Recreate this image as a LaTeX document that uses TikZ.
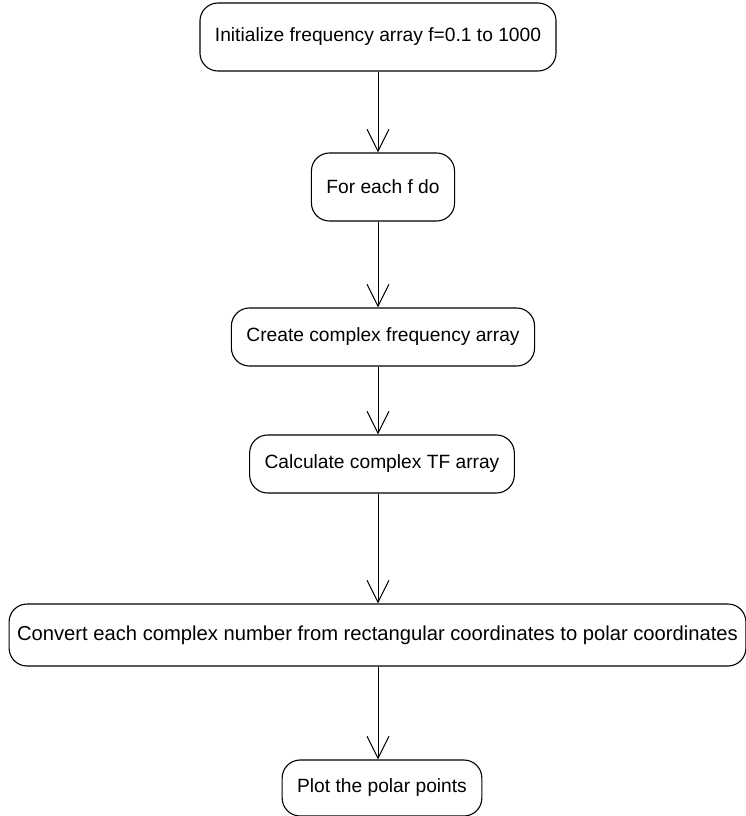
\documentclass[tikz,border=0pt]{standalone}
\usepackage{fontspec}
\setmainfont{Liberation Sans}
\usetikzlibrary{arrows.meta}
\begin{document}
\begin{tikzpicture}[x=1pt,y=-1pt,
  stepbox/.style={draw, line width=1.1pt, rounded corners=18pt, inner xsep=15pt,
    minimum height=58pt, font=\fontsize{19.2}{23}\selectfont},
  flow/.style={line width=1pt, -{Straight Barb[length=22pt,width=22pt,line width=1pt]}}]
\useasboundingbox (0,0) rectangle (746,816);
% activity steps, top to bottom
\node[stepbox, minimum height=68pt] (init) at (378,37) {Initialize frequency array f=0.1 to 1000};
\node[stepbox, minimum height=68pt] (loop) at (383,187) {For each f do};
\node[stepbox] (cfreq) at (383,337) {Create complex frequency array};
\node[stepbox] (tf) at (382,464) {Calculate complex TF array};
\node[stepbox, minimum height=62pt, inner xsep=8pt, font=\fontsize{20.2}{24}\selectfont] (conv) at (377.5,635) {Convert each complex number from rectangular coordinates to polar coordinates};
\node[stepbox, minimum height=56pt] (plot) at (382,788) {Plot the polar points};
% control flow
\draw[flow] (init.south) -- (init.south |- loop.north);
\draw[flow] (init.south |- loop.south) -- (init.south |- cfreq.north);
\draw[flow] (init.south |- cfreq.south) -- (init.south |- tf.north);
\draw[flow] (init.south |- tf.south) -- (init.south |- conv.north);
\draw[flow] (init.south |- conv.south) -- (init.south |- plot.north);
\end{tikzpicture}
\end{document}
